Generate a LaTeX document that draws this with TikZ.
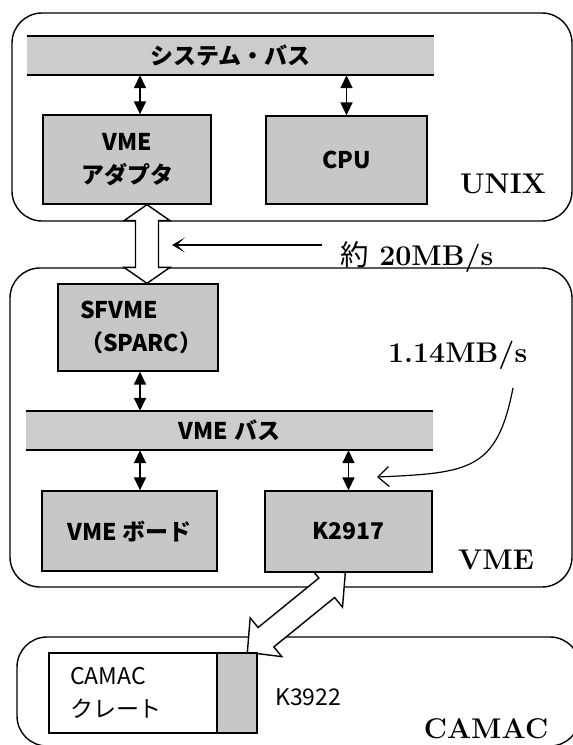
\documentclass[tikz,border=0pt]{standalone}
\usepackage{fontspec}
\newfontfamily\jp{Noto Sans CJK JP}
\usetikzlibrary{arrows.meta,calc,backgrounds}
\newcommand{\boxfont}{\jp\bfseries\fontsize{23}{33}\selectfont}
\newcommand{\plainfont}{\jp\fontsize{23}{33}\selectfont}
\newcommand{\widedbl}[5]{%
 \filldraw[widearrow]
 (#1) -- ($(#1)!#3!(#2)!#4!90:(#2)$) -- ($(#1)!#3!(#2)!#5!90:(#2)$)
 -- ($(#2)!#3!(#1)!#5!-90:(#1)$) -- ($(#2)!#3!(#1)!#4!-90:(#1)$)
 -- (#2) -- ($(#2)!#3!(#1)!#4!90:(#1)$) -- ($(#2)!#3!(#1)!#5!90:(#1)$)
 -- ($(#1)!#3!(#2)!#5!-90:(#2)$) -- ($(#1)!#3!(#2)!#4!-90:(#2)$) -- cycle;}
\begin{document}
\begin{tikzpicture}[x=1pt,y=-1pt,
  outerbox/.style={draw, line width=1.4pt, rounded corners=30pt, inner sep=0pt},
  box/.style={draw, line width=1.3pt, fill=black!22, inner sep=0pt, font=\boxfont, align=center},
  busbar/.style={fill=black!20, inner sep=0pt, font=\boxfont},
  busline/.style={line width=1.6pt},
  biarrow/.style={line width=1.6pt, {Triangle[length=13pt,width=12pt]}-{Triangle[length=13pt,width=12pt]}},
  widearrow/.style={fill=white, draw=black, line width=1.4pt, line join=miter},
  bigtext/.style={font=\bfseries\fontsize{28.5}{34}\selectfont, inner sep=0pt},
  smalltext/.style={font=\plainfont, inner sep=0pt}]
\clip (0,0) rectangle (573,745);

% ---- UNIX ----
\node[busbar, minimum width=407pt, minimum height=39pt] (sysbus) at (230.5,55.5) {システム・バス};
\draw[busline] (sysbus.north west) -- (sysbus.north east);
\draw[busline] (sysbus.south west) -- (sysbus.south east);
\node[box, minimum width=168pt, minimum height=89pt] (vmead) at (127,159.5) {VME\\アダプタ};
\node[box, minimum width=161pt, minimum height=88pt] (cpu) at (346.5,160) {CPU};
\coordinate (ax) at (140,0);
\draw[biarrow] (sysbus.south -| ax) -- (vmead.north -| ax);
\draw[biarrow] (sysbus.south -| cpu.north) -- (cpu.north);
\node[bigtext, anchor=base] (unixlbl) at (503,193) {UNIX};

% ---- rate 20MB/s ----
\node[bigtext, anchor=base west] (rate1) at (340,265) {{\jp\mdseries 約} 20MB/s};
\coordinate (r1s) at (322,245);
\coordinate (r1e) at (172,245);
\draw[line width=1.4pt, -{Stealth[length=13pt,width=15pt,inset=8pt]}] (r1s) -- (r1e);

% ---- VME ----
\node[box, minimum width=160pt, minimum height=87pt, text width=116pt, inner xsep=22pt, align=left] (sfvme) at (138,327.5) {SFVME\\（SPARC）};
\node[busbar, minimum width=407pt, minimum height=39pt] (vmebus) at (229.5,430.5) {VME\hspace{0.25em}バス};
\draw[busline] (vmebus.north west) -- (vmebus.north east);
\draw[busline] (vmebus.south west) -- (vmebus.south east);
\node[box, minimum width=175pt, minimum height=80pt] (vmeboard) at (129.5,531) {VME\hspace{0.25em}ボード};
\node[box, minimum width=167pt, minimum height=81pt] (k2917) at (348.5,531.5) {K2917};
\draw[biarrow] (sfvme.south -| ax) -- (vmebus.north -| ax);
\draw[biarrow] (vmebus.south -| ax) -- (vmeboard.north -| ax);
\draw[biarrow] (vmebus.south -| k2917.north) -- (k2917.north);
\node[bigtext, anchor=base] (vmelbl) at (496,569) {VME};
\node[bigtext, anchor=base west] (rate2) at (388,362) {1.14MB/s};
\coordinate (c1) at (513,388);
\coordinate (c2) at (377,477);
\draw[line width=1.2pt, -{Straight Barb[length=11pt,width=20pt]}] (c1) .. controls (497,470) and (470,473) .. (c2);

% ---- CAMAC ----
\node[draw, line width=1.3pt, fill=white, minimum width=168pt, minimum height=80pt, text width=126pt, inner xsep=21pt, inner ysep=0pt, align=left, font=\plainfont] (crate) at (133,693) {CAMAC\\クレート};
\node[draw, line width=1.3pt, fill=black!22, minimum width=40pt, minimum height=80pt, inner sep=0pt] (k3922) at (237,693) {};
\node[smalltext, anchor=base west] (k3922lbl) at (275,705) {K3922};
\node[bigtext, anchor=base] (camaclbl) at (486,738) {CAMAC};

% ---- background: outer frames and wide arrows ----
\begin{pgfonlayer}{background}
\fill[white] (0,0) rectangle (573,745);
\node[outerbox, minimum width=560pt, minimum height=208pt] (unix) at (292,117) {};
\node[outerbox, minimum width=562pt, minimum height=319pt] (vme) at (291,427.5) {};
\node[outerbox, minimum width=563pt, minimum height=109pt] (camac) at (298.5,691.5) {};
\coordinate (wx) at (147,0);
\coordinate (wa) at (vmead.south -| wx);
\coordinate (wb) at (sfvme.north -| wx);
\widedbl{wa}{wb}{16pt}{23pt}{11.5pt}
\coordinate (da) at ($(k3922.north west)+(31,0)$);
\coordinate (db) at ($(k2917.south west)+(81,0)$);
\widedbl{da}{db}{24pt}{25pt}{12.5pt}
\end{pgfonlayer}
\end{tikzpicture}
\end{document}
